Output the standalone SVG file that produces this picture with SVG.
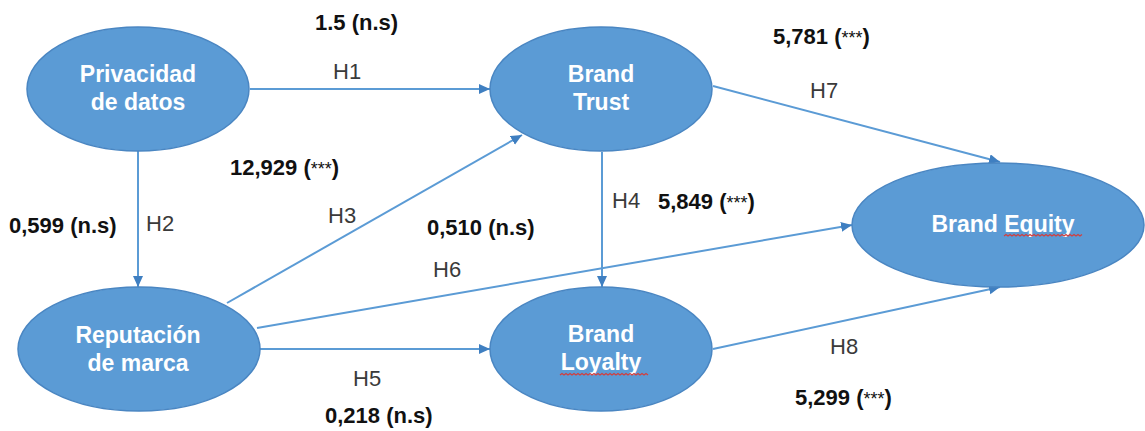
<svg xmlns="http://www.w3.org/2000/svg" width="1145" height="431" viewBox="0 0 1145 431">
<style>
.node{fill:#5B9BD5;stroke:#4A86C2;stroke-width:1.5}
.nt{font-family:"Liberation Sans",Arial,sans-serif;font-weight:bold;font-size:23px;fill:#ffffff;text-anchor:middle}
.edge{stroke:#5B9BD5;stroke-width:2;fill:none;marker-end:url(#ah)}
.h{font-family:"Liberation Sans",Arial,sans-serif;font-size:22px;fill:#3a3a3a}
.v{font-family:"Liberation Sans",Arial,sans-serif;font-weight:bold;font-size:22px;fill:#111111}
.ast{font-weight:normal;font-size:18px}
.wavy{stroke:#d04040;stroke-width:1.2;fill:none}
</style>
<defs>
<marker id="ah" markerUnits="userSpaceOnUse" markerWidth="12" markerHeight="12" refX="11" refY="5" orient="auto">
<path d="M0,0 L11,5 L0,10 z" fill="#3F7FC1"/>
</marker>
</defs>
<rect width="1145" height="431" fill="#ffffff"/>
<g id="connectors">
<line class="edge" x1="250" y1="89" x2="490" y2="89"/>
<line class="edge" x1="138" y1="151" x2="138" y2="287"/>
<line class="edge" x1="227" y1="303" x2="522" y2="135"/>
<line class="edge" x1="602" y1="152" x2="602" y2="287"/>
<line class="edge" x1="260" y1="349" x2="490" y2="349"/>
<line class="edge" x1="257" y1="328" x2="852" y2="225"/>
<line class="edge" x1="713" y1="86" x2="1000" y2="162"/>
<line class="edge" x1="713" y1="349" x2="1000" y2="287"/>
</g>
<g id="privacidad">
<ellipse class="node" cx="138" cy="89" rx="111" ry="62"/>
<text class="nt" x="138" y="82">Privacidad</text>
<text class="nt" x="138" y="110">de datos</text>
</g>
<g id="brand-trust">
<ellipse class="node" cx="601" cy="89" rx="111" ry="62"/>
<text class="nt" x="601" y="82">Brand</text>
<text class="nt" x="601" y="110">Trust</text>
</g>
<g id="reputacion">
<ellipse class="node" cx="139" cy="349" rx="121" ry="62"/>
<text class="nt" x="138" y="343">Reputación</text>
<text class="nt" x="138" y="371">de marca</text>
</g>
<g id="brand-loyalty">
<ellipse class="node" cx="601" cy="349" rx="111" ry="62"/>
<text class="nt" x="601" y="342">Brand</text>
<text class="nt" x="601" y="370">Loyalty</text>
<path class="wavy" d="M560,375 l2,-1.5 l2,1.5 l2,-1.5 l2,1.5 l2,-1.5 l2,1.5 l2,-1.5 l2,1.5 l2,-1.5 l2,1.5 l2,-1.5 l2,1.5 l2,-1.5 l2,1.5 l2,-1.5 l2,1.5 l2,-1.5 l2,1.5 l2,-1.5 l2,1.5 l2,-1.5 l2,1.5 l2,-1.5 l2,1.5 l2,-1.5 l2,1.5 l2,-1.5 l2,1.5 l2,-1.5 l2,1.5 l2,-1.5 l2,1.5 l2,-1.5 l2,1.5 l2,-1.5 l2,1.5 l2,-1.5 l2,1.5 l2,-1.5 l2,1.5 l2,-1.5 l2,1.5 l2,-1.5 l2,1.5"/>
</g>
<g id="brand-equity">
<ellipse class="node" cx="998" cy="225" rx="146" ry="62"/>
<text class="nt" x="1003" y="232">Brand Equity</text>
<path class="wavy" d="M1004,236 l2,-1.5 l2,1.5 l2,-1.5 l2,1.5 l2,-1.5 l2,1.5 l2,-1.5 l2,1.5 l2,-1.5 l2,1.5 l2,-1.5 l2,1.5 l2,-1.5 l2,1.5 l2,-1.5 l2,1.5 l2,-1.5 l2,1.5 l2,-1.5 l2,1.5 l2,-1.5 l2,1.5 l2,-1.5 l2,1.5 l2,-1.5 l2,1.5 l2,-1.5 l2,1.5 l2,-1.5 l2,1.5 l2,-1.5 l2,1.5 l2,-1.5 l2,1.5 l2,-1.5 l2,1.5 l2,-1.5 l2,1.5 l2,-1.5"/>
</g>
<g id="labels">
<text class="v" x="315" y="30">1.5 (n.s)</text>
<text class="h" x="333" y="79">H1</text>
<text class="v" x="773" y="44">5,781 (<tspan class="ast">***</tspan>)</text>
<text class="h" x="810" y="98">H7</text>
<text class="v" x="230" y="175">12,929 (<tspan class="ast">***</tspan>)</text>
<text class="h" x="328" y="223">H3</text>
<text class="v" x="9" y="233">0,599 (n.s)</text>
<text class="h" x="146" y="231">H2</text>
<text class="v" x="427" y="235">0,510 (n.s)</text>
<text class="h" x="433" y="277">H6</text>
<text class="h" x="612" y="208">H4</text>
<text class="v" x="658" y="209">5,849 (<tspan class="ast">***</tspan>)</text>
<text class="h" x="353" y="386">H5</text>
<text class="v" x="325" y="423">0,218 (n.s)</text>
<text class="h" x="830" y="354">H8</text>
<text class="v" x="795" y="405">5,299 (<tspan class="ast">***</tspan>)</text>
</g>
</svg>
